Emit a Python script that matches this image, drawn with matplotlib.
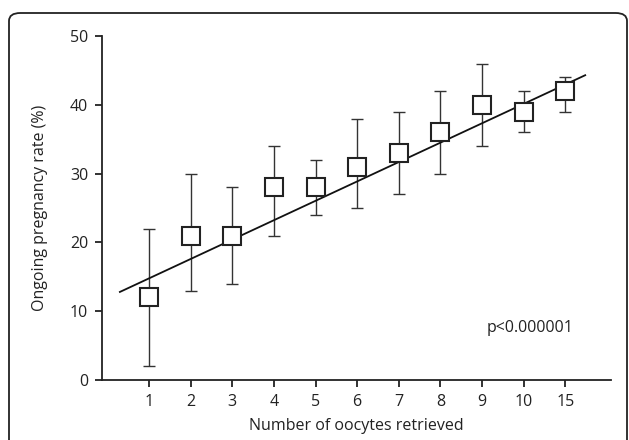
import matplotlib
matplotlib.use("Agg")
import matplotlib.pyplot as plt
from matplotlib.patches import FancyBboxPatch
import numpy as np

plt.rcParams['font.family'] = ['Open Sans', 'DejaVu Sans']

# data
categories = ['1', '2', '3', '4', '5', '6', '7', '8', '9', '10', '15']
rate = [12, 21, 21, 28, 28, 31, 33, 36, 40, 39, 42]
err_low = [2, 13, 14, 21, 24, 25, 27, 30, 34, 36, 39]
err_high = [22, 30, 28, 34, 32, 38, 39, 42, 46, 42, 44]
# regression line end points (category index, rate)
fit_x = [-0.7, 10.48]
fit_y = [12.8, 44.3]

fig = plt.figure(figsize=(6.29, 4.40), dpi=100)
ax = fig.add_axes([102/629, 1 - 380/440, (611 - 102)/629, (380 - 36)/440])

# rounded frame around the figure (bottom edge cut off)
frame = FancyBboxPatch((9/629, -0.1), (627 - 9)/629, (440 - 13)/440 + 0.1,
                       boxstyle="round,pad=0,rounding_size=0.018",
                       transform=fig.transFigure, fill=False,
                       edgecolor='#222222', linewidth=1.3, clip_on=False)
fig.patches.append(frame)

xpos = np.arange(len(categories))
ax.plot(fit_x, fit_y, color='#111111', linewidth=1.3, zorder=2)

lower = np.array(rate) - np.array(err_low)
upper = np.array(err_high) - np.array(rate)
ax.errorbar(xpos, rate, yerr=[lower, upper], fmt='none', ecolor='#333333',
            elinewidth=1.0, capsize=4, capthick=1.0, zorder=1)
ax.plot(xpos, rate, linestyle='none', marker='s', markersize=12.5,
        markerfacecolor='white', markeredgecolor='#222222',
        markeredgewidth=1.5, zorder=3)

ax.set_xlim(-1.13, 11.1)
ax.set_ylim(0, 50)
ax.set_xticks(xpos)
ax.set_xticklabels(categories)
ax.set_yticks([0, 10, 20, 30, 40, 50])

for s in ['top', 'right']:
    ax.spines[s].set_visible(False)
for s in ['left', 'bottom']:
    ax.spines[s].set_linewidth(1.3)
    ax.spines[s].set_color('#222222')
ax.tick_params(direction='out', length=5, width=1.3, labelsize=11.5,
               colors='#222222', pad=5)
ax.patch.set_visible(False)

ax.set_xlabel('Number of oocytes retrieved', fontsize=11.5, color='#222222',
              labelpad=6)
ax.set_ylabel('Ongoing pregnancy rate (%)', fontsize=11.5, color='#222222',
              labelpad=16)
ax.text(10.2, 7.6, 'p<0.000001', fontsize=11.5, ha='right', va='center',
        color='#222222')

fig.savefig('out.png', dpi=100)
